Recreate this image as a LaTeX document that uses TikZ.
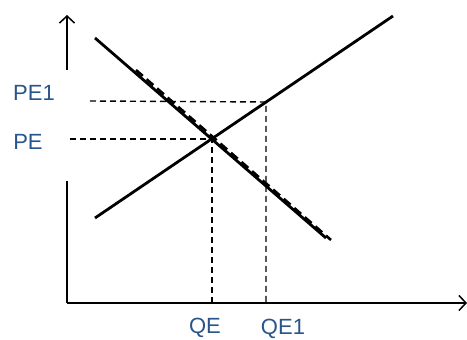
\documentclass[tikz,border=0pt]{standalone}
\usepackage{fontspec}
\setmainfont{Liberation Sans}
\usetikzlibrary{arrows.meta}
\definecolor{labelblue}{RGB}{41,84,140}

\begin{document}
\begin{tikzpicture}[x=1pt,y=1pt,
    >={Straight Barb[length=7pt,width=15pt]},
    curve/.style={line width=2.8pt},
    guide/.style={line width=1.4pt,dash pattern=on 6pt off 4pt},
    lbl/.style={text=labelblue,font=\fontsize{22}{26}\selectfont,inner sep=0pt}]
  \useasboundingbox (-67,-37) rectangle (400,303);
  % axes
  \coordinate (O) at (0,0);
  \coordinate (xend) at (400,0);
  \coordinate (ytop) at (0,288);
  \coordinate (ybot) at (0,233);
  \coordinate (ymid) at (0,122);
  \draw[line width=1.5pt,->] (O) -- (xend);
  \draw[line width=1.5pt] (O) -- (ymid);
  \draw[line width=1.5pt,->] (ybot) -- (ytop);
  % demand, shifted demand and supply
  \coordinate (D0) at (28,265);
  \coordinate (D1) at (259,65);
  \coordinate (Dd0) at (69,233);
  \coordinate (Dd1) at (264,63);
  \coordinate (S0) at (28,85);
  \coordinate (S1) at (326,287);
  \draw[line width=2.6pt,dash pattern=on 9pt off 5pt] (Dd0) -- (Dd1);
  \draw[curve] (D0) -- (D1);
  \draw[curve] (S0) -- (S1);
  % equilibria
  \coordinate (E) at (145,164);
  \coordinate (E1) at (199,201);
  \coordinate (pe) at (3,164);
  \coordinate (pe1) at (23,202);
  \coordinate (qe) at (145,0);
  \coordinate (qe1) at (199,0);
  \draw[guide] (pe) -- (E) -- (qe);
  \draw[guide] (pe1) -- (E1) -- (qe1);
  % labels
  \node[lbl] (PE1) at (-33,210) {PE1};
  \node[lbl] (PE) at (-39,161) {PE};
  \node[lbl] (QE) at (138,-25) {QE};
  \node[lbl] (QE1) at (216,-26) {QE1};
\end{tikzpicture}
\end{document}
